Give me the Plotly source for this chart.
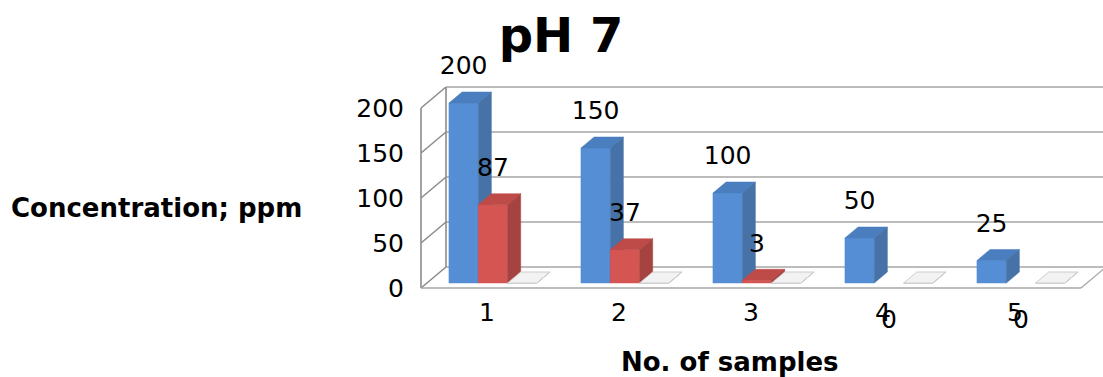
import plotly.graph_objects as go

# ---- data -------------------------------------------------------------
CATEGORIES = ["1", "2", "3", "4", "5"]
SERIES_BLUE = [200, 150, 100, 50, 25]
SERIES_RED = [87, 37, 3, 0, 0]
SERIES_BASE = [0, 0, 0, 0, 0]
Y_TICKS = [0, 50, 100, 150, 200]

# ---- geometry of the pseudo-3D box -----------------------------------
W, H = 1103, 377
PX_PER_CAT = 132.0      # horizontal pixels per category step
PX_PER_UNIT = 0.9       # vertical pixels per ppm
X_REF_PX = 487          # pixel column of category 1
Y_REF_PX = 288          # pixel row of value 0 on the front plane


def x_of_px(p):
    return 1 + (p - X_REF_PX) / PX_PER_CAT


def v_of_px(p):
    return (Y_REF_PX - p) / PX_PER_UNIT


DEPTH_DX = 25 / PX_PER_CAT      # floor depth, category units
DEPTH_DY = 21 / PX_PER_UNIT     # floor depth, value units
D_FRONT, D_BACK = 5 / 21, 16 / 21
GROUP_W = 2 / 3
BAR_W = GROUP_W / 3
WALL_X0, WALL_X1 = 0.5, len(CATEGORIES) + 0.5
Y_MAX = max(Y_TICKS)
FONT = "DejaVu Sans"


def proj(x, v, d):
    return x + d * DEPTH_DX, v + d * DEPTH_DY


def poly(points):
    xs, ys = [], []
    for x, v, d in points:
        px, py = proj(x, v, d)
        xs.append(px)
        ys.append(py)
    xs.append(xs[0])
    ys.append(ys[0])
    return xs, ys


fig = go.Figure()


def add_lines(segments, color, width):
    xs, ys = [], []
    for a, b in segments:
        pa, pb = proj(*a), proj(*b)
        xs += [pa[0], pb[0], None]
        ys += [pa[1], pb[1], None]
    fig.add_trace(go.Scatter(x=xs, y=ys, mode="lines", hoverinfo="skip",
                             line=dict(color=color, width=width), showlegend=False))


# back wall gridlines
add_lines([((WALL_X0, t, 1), (WALL_X1, t, 1)) for t in Y_TICKS], "#A6A6A6", 1.3)
# left side wall
wall = [((WALL_X0, t, 0), (WALL_X0, t, 1)) for t in Y_TICKS]
wall += [((WALL_X0, 0, 0), (WALL_X0, Y_MAX, 0)), ((WALL_X0, 0, 1), (WALL_X0, Y_MAX, 1))]
add_lines(wall, "#8C8C8C", 1.6)
# floor front and right edges
add_lines([((WALL_X0, 0, 0), (WALL_X1, 0, 0)), ((WALL_X1, 0, 0), (WALL_X1, 0, 1))],
          "#A6A6A6", 1.3)

# ---- bars --------------------------------------------------------------
series = [
    dict(values=SERIES_BLUE, front="#558ED5", top="#4A7EBE", side="#4672A7",
         edge=None, labeled=True, keep_zero=False),
    dict(values=SERIES_RED, front="#D45552", top="#BE4B48", side="#A64341",
         edge=None, labeled=True, keep_zero=False),
    dict(values=SERIES_BASE, front="#FFFFFF", top="#F2F2F2", side="#D0D0D0",
         edge="#C8C8C8", labeled=False, keep_zero=True),
]

label_x, label_y, label_txt = [], [], []
for si, s in enumerate(series):
    faces = {"front": ([], []), "top": ([], []), "side": ([], [])}
    for ci, v in enumerate(s["values"]):
        c = ci + 1
        x0 = c - GROUP_W / 2 + si * BAR_W
        x1 = x0 + BAR_W
        if v > 0 or s["keep_zero"]:
            shapes = {
                "front": [(x0, 0, D_FRONT), (x1, 0, D_FRONT), (x1, v, D_FRONT), (x0, v, D_FRONT)],
                "top": [(x0, v, D_FRONT), (x1, v, D_FRONT), (x1, v, D_BACK), (x0, v, D_BACK)],
                "side": [(x1, 0, D_FRONT), (x1, 0, D_BACK), (x1, v, D_BACK), (x1, v, D_FRONT)],
            }
            for k, pts in shapes.items():
                xs, ys = poly(pts)
                faces[k][0].extend(xs + [None])
                faces[k][1].extend(ys + [None])
        if s["labeled"]:
            cx = proj((x0 + x1) / 2, 0, D_FRONT)[0]
            if v > 0:
                cy = proj(0, v, D_BACK)[1] + 24 / PX_PER_UNIT
            else:
                cy = -34 / PX_PER_UNIT
            label_x.append(cx)
            label_y.append(cy)
            label_txt.append(str(v))
    for k in ("front", "top", "side"):
        lc = s["edge"] if s["edge"] else s[k]
        fig.add_trace(go.Scatter(
            x=faces[k][0], y=faces[k][1], mode="lines", fill="toself",
            fillcolor=s[k], line=dict(color=lc, width=0.9 if s["edge"] else 0.5),
            hoverinfo="skip", showlegend=False))

fig.add_trace(go.Scatter(
    x=label_x, y=label_y, text=label_txt, mode="text", textposition="middle center",
    textfont=dict(family=FONT, size=25, color="#000000"), hoverinfo="skip",
    showlegend=False))

# ---- axes & layout -----------------------------------------------------
fig.update_layout(
    width=W, height=H, margin=dict(l=0, r=0, t=0, b=0),
    paper_bgcolor="white", plot_bgcolor="white",
    font=dict(family=FONT, color="#000000"),
    title=dict(text="<b>pH 7</b>", x=561 / W, y=1 - 35 / H, xanchor="center",
               yanchor="middle", xref="paper", yref="paper",
               font=dict(family=FONT, size=48, color="#000000")),
    xaxis=dict(range=[x_of_px(0), x_of_px(W)], anchor="free", position=(H - 295) / H,
               tickvals=list(range(1, len(CATEGORIES) + 1)), ticktext=CATEGORIES,
               tickfont=dict(size=25), showgrid=False, zeroline=False, showline=False,
               ticks=""),
    yaxis=dict(range=[v_of_px(H), v_of_px(0)], anchor="free", position=404 / W,
               tickvals=Y_TICKS, tickfont=dict(size=25), showgrid=False,
               zeroline=False, showline=False, ticks=""),
    annotations=[
        dict(text="<b>Concentration; ppm</b>", x=156 / W, y=1 - 208 / H,
             xref="paper", yref="paper", showarrow=False, xanchor="center",
             yanchor="middle", font=dict(family=FONT, size=26, color="#000000")),
        dict(text="<b>No. of samples</b>", x=730 / W, y=1 - 362 / H,
             xref="paper", yref="paper", showarrow=False, xanchor="center",
             yanchor="middle", font=dict(family=FONT, size=26, color="#000000")),
    ],
)

fig.write_html("out.html")
